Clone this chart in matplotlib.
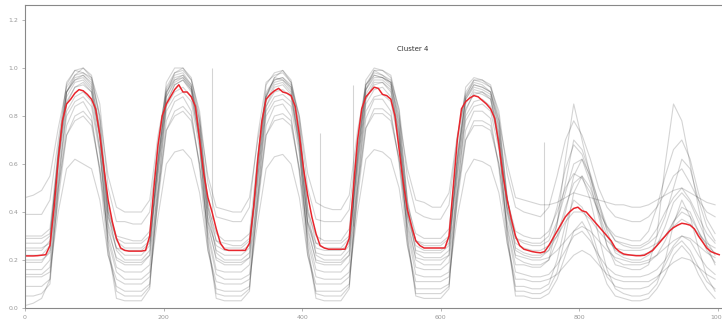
import numpy as np
import matplotlib
matplotlib.use("Agg")
import matplotlib.pyplot as plt

# sampling step of the series (10-minute slots, 144 per day)
mean_step = 6
member_step = 12

# cluster mean (red), one row per day, every 6 slots
cluster_mean = [
    .217, .217, .217, .218, .220, .222, .260, .420, .620, .780, .850, .870, .895, .910, .905, .890, .870, .830, .720, .580, .450, .360, .290, .250,
    .240, .237, .237, .237, .237, .240, .300, .500, .680, .800, .850, .880, .910, .930, .900, .900, .880, .840, .700, .560, .460, .400, .330, .270,
    .245, .240, .240, .240, .240, .240, .270, .420, .620, .780, .870, .890, .905, .915, .900, .895, .885, .840, .720, .580, .470, .380, .310, .260,
    .250, .245, .245, .245, .245, .245, .290, .500, .700, .830, .880, .900, .920, .915, .890, .885, .870, .800, .660, .520, .410, .340, .280, .260,
    .250, .250, .250, .250, .250, .250, .300, .500, .700, .830, .860, .875, .885, .880, .865, .850, .830, .790, .680, .550, .450, .370, .300, .260,
    .245, .240, .235, .232, .230, .235, .260, .290, .320, .350, .380, .400, .415, .420, .405, .400, .380, .360, .340, .320, .300, .280, .250, .235,
    .225, .222, .220, .218, .218, .220, .230, .240, .260, .280, .300, .320, .335, .345, .353, .350, .345, .330, .300, .275, .250, .235, .228, .222,
]

# individual members (gray), one row per day, every 12 slots
member_01 = [
    .46, .47, .49, .55, .75, .92, .97, .98, .95, .80, .55, .42,
    .40, .40, .40, .45, .72, .90, .95, .97, .93, .78, .55, .42,
    .41, .40, .40, .46, .70, .88, .96, .95, .92, .80, .56, .44,
    .42, .41, .41, .47, .74, .93, .97, .96, .94, .79, .58, .45,
    .44, .42, .42, .48, .72, .89, .94, .93, .90, .78, .60, .46,
    .45, .44, .43, .43, .44, .46, .48, .47, .46, .45, .44, .43,
    .43, .42, .42, .43, .45, .47, .49, .50, .48, .46, .44, .43,
]
member_02 = [
    .39, .39, .39, .45, .70, .93, .99, .98, .96, .85, .50, .36,
    .36, .35, .35, .40, .68, .92, .98, .99, .95, .82, .52, .38,
    .37, .36, .36, .42, .72, .94, .97, .98, .94, .80, .50, .37,
    .36, .36, .36, .41, .70, .93, .99, .97, .95, .83, .54, .40,
    .38, .37, .37, .43, .71, .90, .95, .94, .92, .82, .56, .42,
    .40, .39, .38, .42, .55, .70, .78, .72, .62, .50, .42, .38,
    .37, .36, .36, .38, .42, .48, .55, .58, .52, .45, .40, .38,
]
member_03 = [
    .30, .30, .30, .33, .66, .90, .96, .97, .93, .75, .40, .30,
    .29, .28, .28, .32, .62, .88, .94, .96, .92, .76, .42, .31,
    .28, .28, .28, .31, .64, .89, .95, .96, .93, .74, .40, .30,
    .28, .28, .28, .33, .66, .91, .97, .96, .94, .77, .43, .31,
    .29, .29, .29, .33, .63, .87, .93, .92, .90, .76, .45, .32,
    .30, .29, .29, .32, .40, .50, .56, .54, .48, .40, .34, .30,
    .29, .28, .28, .32, .42, .55, .66, .70, .62, .48, .37, .31,
]
member_04 = [
    .29, .29, .29, .31, .60, .86, .92, .93, .90, .72, .38, .29,
    .27, .27, .27, .30, .58, .85, .93, .95, .91, .74, .40, .28,
    .27, .26, .26, .29, .55, .84, .90, .91, .88, .70, .36, .27,
    .27, .27, .27, .30, .60, .87, .93, .94, .90, .73, .40, .28,
    .27, .27, .27, .30, .57, .83, .89, .90, .87, .72, .42, .29,
    .28, .27, .27, .30, .42, .58, .68, .64, .54, .42, .33, .28,
    .27, .26, .26, .28, .33, .40, .46, .50, .45, .38, .31, .27,
]
member_05 = [
    .27, .27, .27, .30, .62, .90, .97, 1.0, .96, .78, .42, .28,
    .25, .25, .25, .28, .60, .89, .98, 1.0, .95, .78, .44, .28,
    .25, .25, .25, .28, .58, .88, .96, .99, .94, .76, .42, .27,
    .25, .25, .25, .29, .62, .91, .99, .99, .96, .80, .45, .28,
    .26, .26, .26, .29, .60, .88, .95, .95, .92, .78, .46, .29,
    .27, .26, .26, .28, .36, .48, .60, .62, .55, .44, .34, .28,
    .26, .25, .25, .27, .30, .38, .50, .62, .58, .45, .34, .28,
]
member_06 = [
    .25, .25, .25, .27, .55, .82, .88, .90, .86, .66, .35, .25,
    .24, .24, .24, .27, .55, .84, .90, .92, .88, .70, .36, .26,
    .24, .24, .24, .26, .52, .82, .88, .89, .86, .68, .35, .25,
    .24, .24, .24, .27, .56, .85, .91, .92, .88, .70, .38, .26,
    .24, .24, .24, .27, .54, .80, .86, .87, .84, .70, .40, .27,
    .25, .24, .24, .26, .30, .36, .40, .40, .37, .32, .28, .25,
    .24, .24, .24, .25, .27, .30, .34, .37, .35, .31, .27, .25,
]
member_07 = [
    .24, .24, .24, .28, .64, .90, .95, .97, .94, .74, .38, .25,
    .22, .22, .22, .26, .62, .91, .97, .98, .93, .74, .38, .24,
    .22, .22, .22, .25, .60, .90, .95, .96, .92, .72, .36, .23,
    .22, .22, .22, .26, .64, .93, .98, .97, .94, .76, .40, .24,
    .23, .23, .23, .26, .62, .88, .93, .92, .90, .75, .42, .25,
    .23, .22, .22, .24, .30, .42, .52, .55, .50, .40, .30, .24,
    .22, .22, .22, .23, .26, .30, .36, .40, .38, .32, .26, .23,
]
member_08 = [
    .22, .22, .22, .26, .66, .94, .99, 1.0, .97, .80, .40, .24,
    .20, .20, .20, .24, .64, .94, 1.0, 1.0, .96, .80, .42, .23,
    .20, .20, .20, .23, .62, .93, .98, .99, .95, .78, .40, .22,
    .20, .20, .20, .24, .66, .95, 1.0, .99, .97, .82, .44, .23,
    .21, .21, .21, .24, .64, .92, .96, .95, .93, .80, .46, .24,
    .22, .21, .21, .24, .35, .52, .70, .66, .56, .44, .32, .23,
    .21, .20, .20, .22, .26, .34, .44, .48, .44, .36, .28, .22,
]
member_09 = [
    .20, .20, .20, .23, .52, .80, .86, .88, .84, .64, .32, .21,
    .19, .19, .19, .22, .50, .82, .88, .90, .86, .66, .34, .21,
    .19, .19, .19, .21, .48, .80, .86, .87, .84, .64, .32, .20,
    .19, .19, .19, .22, .52, .82, .88, .89, .86, .68, .35, .21,
    .20, .20, .20, .22, .50, .78, .84, .85, .82, .66, .36, .22,
    .21, .20, .20, .21, .24, .28, .32, .34, .32, .28, .24, .21,
    .20, .19, .19, .20, .22, .25, .28, .30, .29, .26, .23, .21,
]
member_10 = [
    .19, .19, .19, .24, .62, .90, .95, .96, .92, .72, .34, .20,
    .18, .18, .18, .22, .60, .90, .96, .97, .92, .72, .36, .20,
    .18, .18, .18, .21, .58, .88, .94, .95, .91, .70, .34, .19,
    .18, .18, .18, .22, .62, .91, .96, .96, .93, .74, .38, .20,
    .18, .18, .18, .22, .60, .87, .92, .91, .89, .73, .40, .21,
    .19, .18, .18, .20, .28, .40, .55, .62, .52, .38, .26, .20,
    .18, .18, .18, .19, .22, .28, .36, .42, .40, .32, .24, .19,
]
member_11 = [
    .14, .14, .14, .17, .45, .72, .80, .82, .78, .58, .28, .15,
    .12, .12, .12, .15, .44, .74, .82, .84, .80, .60, .30, .14,
    .12, .12, .12, .14, .42, .72, .80, .81, .78, .58, .28, .13,
    .12, .12, .12, .15, .45, .75, .83, .83, .80, .62, .32, .14,
    .13, .13, .13, .15, .44, .70, .78, .78, .76, .60, .33, .15,
    .14, .13, .13, .14, .18, .24, .30, .32, .28, .22, .17, .14,
    .13, .13, .13, .14, .16, .20, .26, .30, .28, .22, .17, .14,
]
member_12 = [
    .13, .13, .13, .15, .40, .58, .62, .60, .58, .45, .22, .12,
    .10, .10, .10, .13, .38, .60, .65, .66, .62, .48, .24, .11,
    .10, .10, .10, .12, .36, .58, .63, .64, .60, .46, .22, .10,
    .10, .10, .10, .13, .40, .62, .66, .65, .62, .50, .26, .11,
    .11, .11, .11, .13, .38, .56, .62, .61, .59, .48, .27, .12,
    .12, .11, .11, .12, .14, .18, .22, .24, .22, .18, .14, .12,
    .11, .11, .11, .11, .13, .16, .19, .21, .20, .17, .14, .12,
]
member_13 = [
    .09, .09, .09, .12, .48, .76, .84, .86, .80, .56, .22, .09,
    .07, .07, .07, .10, .46, .78, .86, .88, .82, .58, .24, .08,
    .07, .07, .07, .09, .44, .76, .84, .85, .80, .56, .22, .07,
    .07, .07, .07, .10, .48, .79, .87, .87, .82, .60, .26, .08,
    .08, .08, .08, .10, .46, .74, .82, .82, .79, .58, .27, .09,
    .09, .08, .08, .10, .20, .35, .45, .42, .34, .22, .13, .09,
    .08, .08, .08, .09, .12, .18, .25, .28, .24, .17, .11, .08,
]
member_14 = [
    .05, .05, .06, .10, .50, .85, .92, .94, .90, .66, .26, .07,
    .05, .05, .05, .09, .48, .86, .93, .95, .90, .68, .28, .06,
    .05, .05, .05, .08, .46, .84, .92, .93, .89, .66, .26, .06,
    .05, .05, .05, .09, .50, .87, .94, .94, .91, .70, .30, .06,
    .06, .06, .06, .09, .48, .82, .90, .89, .87, .68, .31, .07,
    .07, .06, .06, .08, .15, .30, .48, .55, .45, .30, .16, .08,
    .06, .05, .05, .06, .10, .20, .35, .45, .38, .25, .13, .07,
]
member_15 = [
    .01, .02, .04, .12, .58, .88, .94, .95, .91, .70, .25, .04,
    .03, .03, .03, .08, .56, .88, .95, .96, .91, .70, .27, .04,
    .03, .03, .03, .07, .54, .86, .93, .94, .90, .68, .25, .04,
    .03, .03, .03, .08, .58, .89, .95, .95, .92, .72, .29, .05,
    .04, .04, .04, .08, .56, .85, .91, .90, .88, .70, .30, .05,
    .05, .04, .04, .06, .12, .22, .32, .36, .30, .20, .10, .05,
    .04, .03, .03, .04, .08, .14, .22, .26, .22, .14, .08, .04,
]
member_16 = [
    .16, .16, .16, .20, .50, .72, .78, .80, .76, .58, .30, .17,
    .15, .15, .15, .18, .48, .74, .80, .82, .78, .60, .32, .16,
    .15, .15, .15, .18, .46, .72, .78, .79, .76, .58, .30, .16,
    .15, .15, .15, .19, .50, .75, .81, .81, .78, .62, .34, .17,
    .16, .16, .16, .19, .48, .70, .76, .76, .74, .60, .34, .18,
    .18, .17, .17, .20, .35, .62, .85, .70, .55, .40, .26, .18,
    .17, .16, .16, .18, .30, .60, .85, .78, .60, .42, .26, .18,
]
members = [member_01, member_02, member_03, member_04, member_05, member_06,
           member_07, member_08, member_09, member_10, member_11, member_12,
           member_13, member_14, member_15, member_16]

# single-slot spikes seen in a few members (slot, low, high)
spike_slot = [270, 426, 473, 749]
spike_low = [0.37, 0.28, 0.34, 0.23]
spike_high = [1.0, 0.73, 0.93, 0.69]

cluster_name = "Cluster 4"
y_ticks = [0.0, 0.2, 0.4, 0.6, 0.8, 1.0, 1.2]
x_ticks = [0, 200, 400, 600, 800, 1000]


def plot_cluster(filename):
    fig = plt.figure(figsize=(7.22, 3.21), dpi=100)
    ax = fig.add_axes([25 / 722, 13 / 321, 697 / 722, 303 / 321])

    x_member = np.arange(len(member_01)) * member_step
    for m in members:
        ax.plot(x_member, m, color="black", alpha=0.17, lw=0.8)
    ax.vlines(spike_slot, spike_low, spike_high, color="black", alpha=0.17, lw=0.8)

    x_mean = np.arange(len(cluster_mean)) * mean_step
    ax.plot(x_mean, cluster_mean, color="#e8262d", lw=1.1)

    ax.set_xlim(0, 1006)
    ax.set_ylim(0, 1.2625)
    ax.set_xticks(x_ticks)
    ax.set_yticks(y_ticks)
    ax.set_yticklabels([f"{v:.1f}" for v in y_ticks])
    ax.tick_params(labelsize=4.5, colors="#999999", length=2, width=0.5, pad=3)
    for side in ["left", "bottom", "top"]:
        ax.spines[side].set_color("#888888")
        ax.spines[side].set_linewidth(0.8)
    ax.spines["right"].set_visible(False)

    ax.text(0.571, 0.847, cluster_name, transform=fig.transFigure,
            ha="center", va="center", fontsize=5, color="#333333")

    fig.savefig(filename, dpi=100)
    plt.close(fig)


if __name__ == "__main__":
    plot_cluster("out.png")
